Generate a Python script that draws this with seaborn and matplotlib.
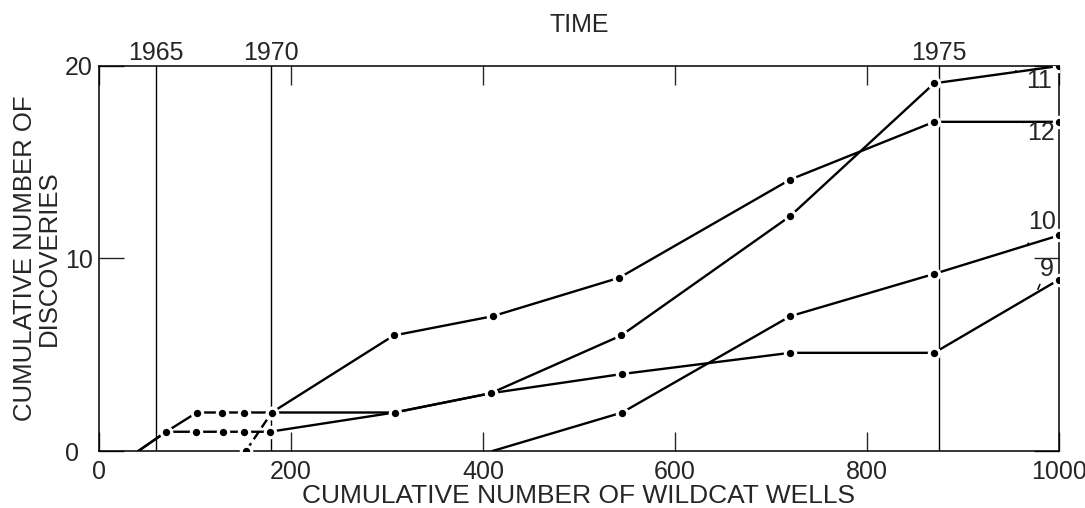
import matplotlib
matplotlib.use("Agg")
import matplotlib.pyplot as plt
import seaborn as sns
import pandas as pd

# ---- data ----
wells_12 = [41, 70, 102, 128, 151, 180, 307, 410, 542, 720, 870, 1000]
disc_12 = [0, 1, 2, 2, 2, 2, 6, 7, 9, 14.1, 17.1, 17.1]

wells_11 = [153, 180, 308, 408, 544, 720, 870, 1000]
disc_11 = [0, 2, 2, 3, 6, 12.2, 19.1, 20]

wells_10 = [410, 545, 720, 870, 1000]
disc_10 = [0, 2, 7, 9.2, 11.2]

wells_9 = [41, 70, 101, 129, 151, 178, 308, 408, 545, 720, 870, 1000]
disc_9 = [0, 1, 1, 1, 1, 1, 2, 3, 4, 5.1, 5.1, 8.9]

series_names = ["12", "11", "10", "9"]
label_xy = [(981, 16.5), (979, 19.2), (982, 11.9), (987, 9.45)]
leader_xy = [(962, 17.1), (955, 19.75), (967, 10.7), (978, 8.4)]

year_labels = ["1965", "1970", "1975"]
year_wells = [59, 179, 875]

x_ticks = [0, 200, 400, 600, 800, 1000]
y_ticks = [0, 10, 20]

# ---- style ----
sns.set_style("ticks")
plt.rcParams["font.family"] = ["Liberation Sans", "DejaVu Sans"]
plt.rcParams["font.size"] = 18

fig = plt.figure(figsize=(10.85, 5.08), dpi=100)
ax = fig.add_axes([0.0912, 0.1122, 0.8848, 0.7579])

line_kw = dict(color="black", linewidth=1.7, marker="o", markersize=7.5,
               markerfacecolor="black", markeredgecolor="white",
               markeredgewidth=2.2)

df12 = pd.DataFrame({"wells": wells_12, "disc": disc_12})
df11 = pd.DataFrame({"wells": wells_11, "disc": disc_11})
df10 = pd.DataFrame({"wells": wells_10, "disc": disc_10})
df9 = pd.DataFrame({"wells": wells_9, "disc": disc_9})

# time reference lines
for w in year_wells:
    ax.axvline(w, color="black", linewidth=1.0, zorder=1)

sns.lineplot(data=df9, x="wells", y="disc", ax=ax, sort=False,
             markevery=list(range(1, len(df9))), zorder=3, **line_kw)
sns.lineplot(data=df12, x="wells", y="disc", ax=ax, sort=False,
             markevery=list(range(1, len(df12))), zorder=3, **line_kw)
# first segment of series 11 is dashed
sns.lineplot(data=df11.iloc[:2], x="wells", y="disc", ax=ax, sort=False,
             linestyle=(0, (4, 2)), zorder=3, **line_kw)
sns.lineplot(data=df11.iloc[1:], x="wells", y="disc", ax=ax, sort=False,
             zorder=3, **line_kw)
sns.lineplot(data=df10, x="wells", y="disc", ax=ax, sort=False,
             markevery=list(range(1, len(df10))), zorder=3, **line_kw)

# series labels with leader lines
for name, (tx, ty), (lx, ly) in zip(series_names, label_xy, leader_xy):
    ax.annotate(name, xy=(lx, ly), xytext=(tx, ty), ha="center", va="center",
                fontsize=18, zorder=5,
                arrowprops=dict(arrowstyle="-", color="black", lw=1.1,
                                shrinkA=5, shrinkB=0))

ax.set_xlim(0, 1000)
ax.set_ylim(0, 20)
ax.set_xticks(x_ticks)
ax.set_yticks(y_ticks)
ax.set_xticklabels([str(v) for v in x_ticks])
ax.set_yticklabels([str(v) for v in y_ticks], ha="left")
ax.tick_params(axis="x", direction="in", length=14, width=1.0, top=True,
               bottom=True, labeltop=False, pad=6.5, labelsize=18)
ax.tick_params(axis="y", direction="in", length=18, width=1.0, left=True,
               right=True, pad=24.5, labelsize=18)
for s in ax.spines.values():
    s.set_visible(True)
    s.set_linewidth(1.1)
    s.set_color("black")

ax.set_xlabel("CUMULATIVE NUMBER OF WILDCAT WELLS", fontsize=19, va="top")
ax.xaxis.set_label_coords(0.5, -0.085)
ax.set_ylabel("CUMULATIVE NUMBER OF\nDISCOVERIES", fontsize=18.5,
              linespacing=1.0)
ax.yaxis.set_label_coords(-0.040, 0.5)

# top time axis
sec = ax.secondary_xaxis("top")
sec.set_xticks(year_wells)
sec.set_xticklabels(year_labels)
sec.tick_params(length=0, pad=1, labelsize=18)
sec.spines["top"].set_visible(False)
sec.set_xlabel("TIME", fontsize=18, labelpad=6.5)

fig.savefig("out.png", dpi=100)
